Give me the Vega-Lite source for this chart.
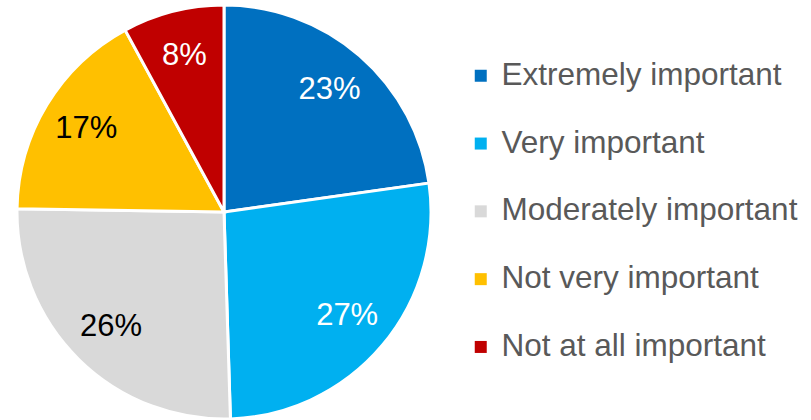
{
  "$schema": "https://vega.github.io/schema/vega-lite/v6.json",
  "width": 811,
  "height": 420,
  "autosize": "none",
  "padding": 0,
  "background": "white",
  "config": {"view": {"stroke": null}, "font": "Liberation Sans"},
  "data": {"values": [
    {"i": 1, "cat": "Extremely important", "pct": 23, "label": "23%"},
    {"i": 2, "cat": "Very important", "pct": 27, "label": "27%"},
    {"i": 3, "cat": "Moderately important", "pct": 26, "label": "26%"},
    {"i": 4, "cat": "Not very important", "pct": 17, "label": "17%"},
    {"i": 5, "cat": "Not at all important", "pct": 8, "label": "8%"}
  ]},
  "encoding": {
    "theta": {"field": "pct", "type": "quantitative", "stack": true},
    "order": {"field": "i", "type": "quantitative"}
  },
  "layer": [
    {
      "mark": {"type": "arc", "x": 224, "y": 212, "outerRadius": 207, "stroke": "white", "strokeWidth": 3},
      "encoding": {
        "color": {
          "field": "cat", "type": "nominal", "sort": null,
          "scale": {
            "domain": ["Extremely important", "Very important", "Moderately important", "Not very important", "Not at all important"],
            "range": ["#0070C0", "#00B0F0", "#D9D9D9", "#FFC000", "#C00000"]
          },
          "legend": {
            "title": null,
            "orient": "none",
            "legendX": 465,
            "legendY": 60,
            "symbolType": "square",
            "symbolSize": 144,
            "symbolStrokeWidth": 0,
            "labelFontSize": 31.5,
            "labelColor": "#595959",
            "labelFont": "Liberation Sans",
            "labelOffset": 5,
            "rowPadding": 34.8,
            "labelLimit": 400
          }
        }
      }
    },
    {
      "mark": {"type": "text", "x": 224, "y": 212, "radius": 161, "fontSize": 31, "font": "Liberation Sans", "align": "center", "baseline": "middle"},
      "encoding": {
        "text": {"field": "label"},
        "color": {
          "condition": {"test": "datum.cat == 'Moderately important' || datum.cat == 'Not very important'", "value": "#000000"},
          "value": "#FFFFFF"
        }
      }
    }
  ]
}
